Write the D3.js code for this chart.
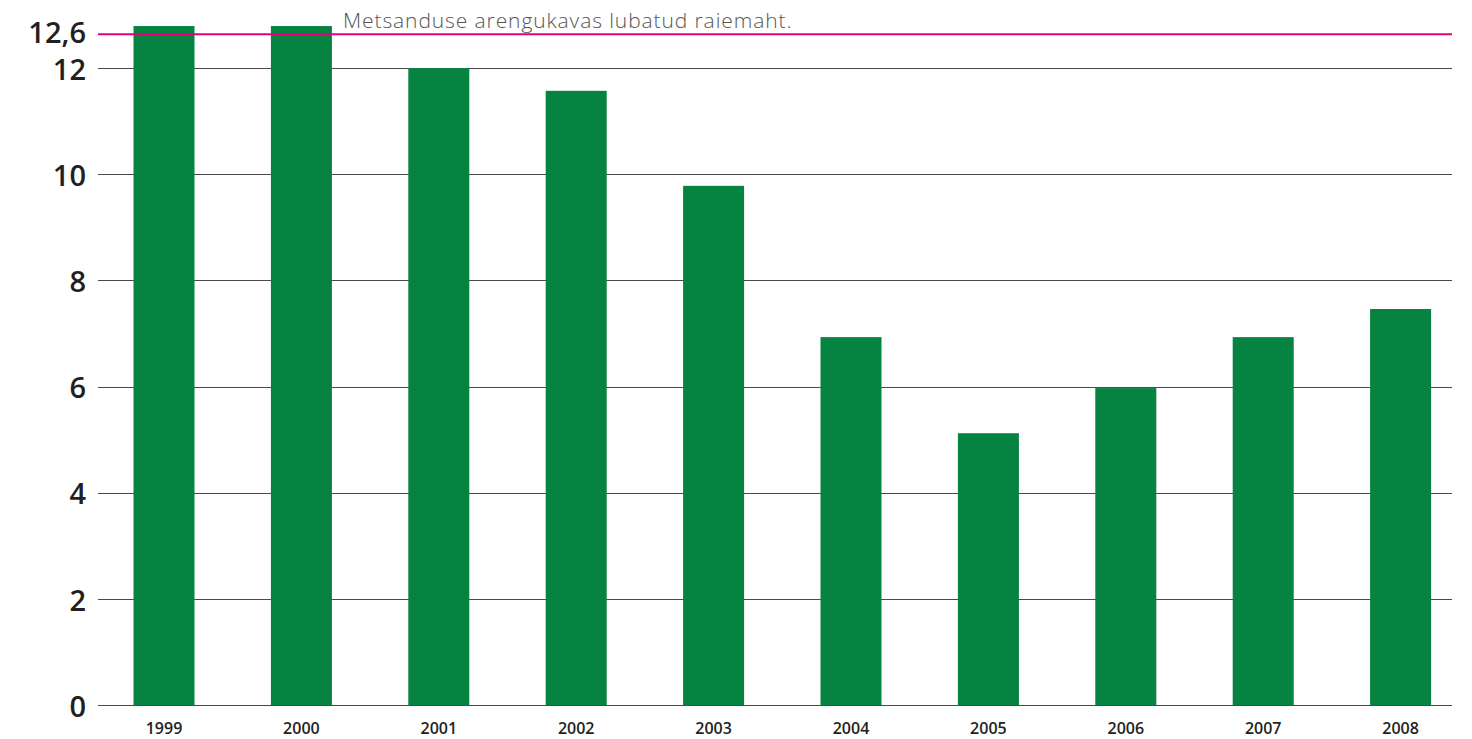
<!DOCTYPE html>
<html>
<head>
<meta charset="utf-8">
<script src="https://cdn.jsdelivr.net/npm/d3@7"></script>
<style>
  body { margin: 0; background: #fff; }
  svg { display: block; font-family: "Open Sans", Roboto, sans-serif; }
</style>
</head>
<body>
<svg id="chart"></svg>
<script>
const width = 1472, height = 739;

// data
const years = ["1999", "2000", "2001", "2002", "2003", "2004", "2005", "2006", "2007", "2008"];
const harvest = [12.79, 12.79, 12.0, 11.57, 9.78, 6.93, 5.12, 5.97, 6.93, 7.46];
const yTicks = [0, 2, 4, 6, 8, 10, 12];
const limitValue = 12.6;
const limitLabel = "12,6";
const limitNote = "Metsanduse arengukavas lubatud raiemaht.";

const svg = d3.select("#chart")
    .attr("width", width)
    .attr("height", height);

const gridLeft = 98, gridRight = 1452;

const x = d3.scaleBand()
    .domain(years)
    .range([95.3, 1469.3])
    .paddingInner(0.556)
    .paddingOuter(0.278);

const y = d3.scaleLinear()
    .domain([0, 12])
    .range([705, 68]);

//gridlines
svg.append("g")
    .selectAll("line")
    .data(yTicks)
    .join("line")
    .attr("x1", gridLeft)
    .attr("x2", gridRight)
    .attr("y1", d => Math.round(y(d)) + 0.5)
    .attr("y2", d => Math.round(y(d)) + 0.5)
    .attr("stroke", "#4a4a4a")
    .attr("stroke-width", 1.2);

//y labels
svg.append("g")
    .selectAll("text")
    .data(yTicks)
    .join("text")
    .attr("x", 86)
    .attr("y", d => y(d) + 4)
    .attr("text-anchor", "end")
    .attr("dominant-baseline", "middle")
    .attr("font-size", 29)
    .attr("font-weight", 600)
    .attr("fill", "#231f20")
    .text(d => d);

//bars
svg.append("g")
    .selectAll("rect")
    .data(years.map((yr, i) => ({ year: yr, value: harvest[i] })))
    .join("rect")
    .attr("x", d => x(d.year))
    .attr("width", x.bandwidth())
    .attr("y", d => y(d.value))
    .attr("height", d => y(0) - y(d.value))
    .attr("fill", "#068241");

//x labels
svg.append("g")
    .selectAll("text")
    .data(years)
    .join("text")
    .attr("x", d => x(d) + x.bandwidth() / 2)
    .attr("y", 734)
    .attr("text-anchor", "middle")
    .attr("font-size", 16)
    .attr("font-weight", 600)
    .attr("fill", "#231f20")
    .text(d => d);

//allowed harvest line
svg.append("line")
    .attr("x1", gridLeft)
    .attr("x2", gridRight)
    .attr("y1", y(limitValue) - 2)
    .attr("y2", y(limitValue) - 2)
    .attr("stroke", "#e6007e")
    .attr("stroke-width", 2);

svg.append("text")
    .attr("x", 86)
    .attr("y", y(limitValue) - 1)
    .attr("text-anchor", "end")
    .attr("dominant-baseline", "middle")
    .attr("font-size", 29)
    .attr("font-weight", 600)
    .attr("fill", "#231f20")
    .text(limitLabel);

svg.append("text")
    .attr("x", 343)
    .attr("y", 28)
    .attr("font-size", 21)
    .attr("font-weight", 300)
    .attr("letter-spacing", 0.9)
    .attr("fill", "#555")
    .text(limitNote);
</script>
</body>
</html>
